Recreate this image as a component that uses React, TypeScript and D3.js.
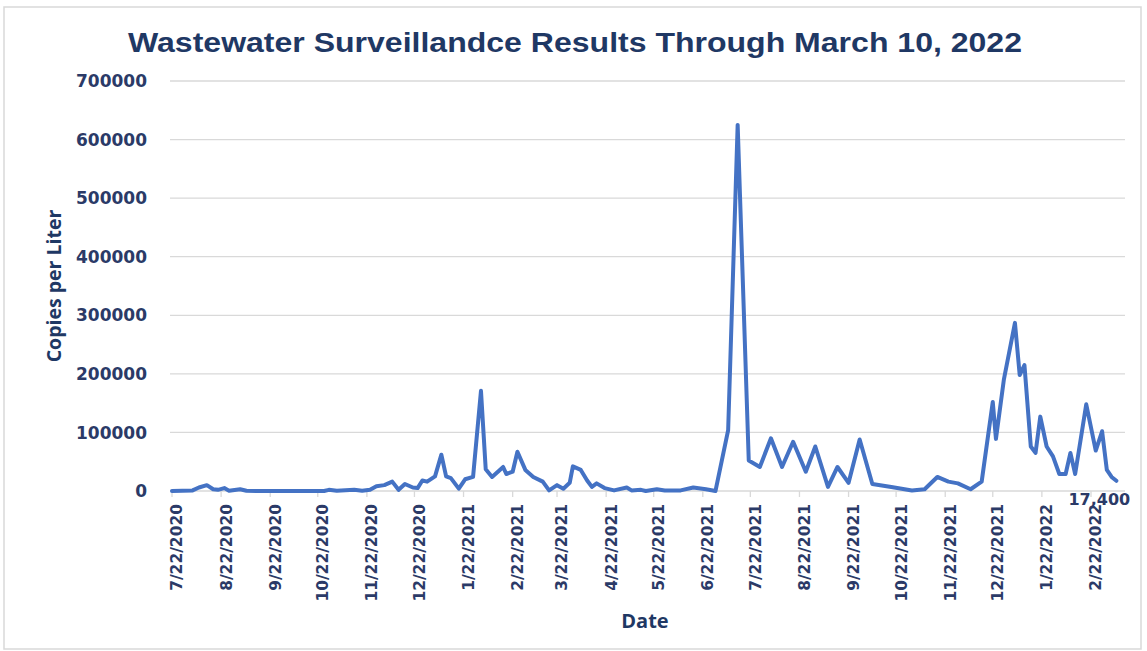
import * as d3 from 'd3'

// sample dates and copies per liter
const sampleDates = [
  '2020-07-22', '2020-08-04', '2020-08-08', '2020-08-13', '2020-08-17', '2020-08-20', '2020-08-24', '2020-08-27',
  '2020-09-03', '2020-09-07', '2020-09-15', '2020-10-11', '2020-10-26', '2020-10-29', '2020-11-03', '2020-11-14',
  '2020-11-19', '2020-11-24', '2020-11-28', '2020-12-03', '2020-12-08', '2020-12-12', '2020-12-16', '2020-12-21',
  '2020-12-24', '2020-12-27', '2020-12-30', '2021-01-04', '2021-01-08', '2021-01-11', '2021-01-14', '2021-01-19',
  '2021-01-23', '2021-01-28', '2021-02-02', '2021-02-05', '2021-02-09', '2021-02-16', '2021-02-18', '2021-02-22',
  '2021-02-25', '2021-03-02', '2021-03-07', '2021-03-13', '2021-03-17', '2021-03-22', '2021-03-26', '2021-03-30',
  '2021-04-01', '2021-04-06', '2021-04-10', '2021-04-13', '2021-04-16', '2021-04-21', '2021-04-27', '2021-05-05',
  '2021-05-08', '2021-05-14', '2021-05-17', '2021-05-24', '2021-05-29', '2021-06-08', '2021-06-16', '2021-06-24',
  '2021-06-30', '2021-07-08', '2021-07-14', '2021-07-21', '2021-07-28', '2021-08-04', '2021-08-11', '2021-08-18',
  '2021-08-26', '2021-09-01', '2021-09-09', '2021-09-15', '2021-09-22', '2021-09-29', '2021-10-07', '2021-10-19',
  '2021-11-01', '2021-11-09', '2021-11-17', '2021-11-24', '2021-11-30', '2021-12-08', '2021-12-15', '2021-12-22',
  '2021-12-24', '2021-12-29', '2022-01-05', '2022-01-08', '2022-01-11', '2022-01-15', '2022-01-18', '2022-01-21',
  '2022-01-25', '2022-01-29', '2022-02-02', '2022-02-06', '2022-02-09', '2022-02-12', '2022-02-19', '2022-02-25',
  '2022-03-01', '2022-03-04', '2022-03-07', '2022-03-10'
]

const copiesPerLiter = [
  0, 1000, 6000, 10000, 3000, 2000, 5000, 500,
  3000, 500, 0, 0, 0, 2000, 500, 2000,
  500, 2000, 8000, 10000, 16000, 2000, 12000, 6000,
  5000, 18000, 16000, 25000, 62000, 25000, 22000, 4000,
  20000, 24000, 171000, 37000, 24000, 41000, 29000, 33000,
  67000, 36000, 24000, 16000, 1000, 10000, 4000, 14000,
  42000, 36000, 18000, 7000, 13000, 5000, 1000, 6000,
  1000, 2000, 0, 3000, 1000, 1000, 6000, 3000,
  0, 104000, 625000, 52000, 41000, 90000, 41000, 84000,
  33000, 76000, 7000, 41000, 14000, 88000, 12000, 7000,
  1000, 3000, 24000, 16000, 13000, 3000, 16000, 152000,
  89000, 190000, 287000, 198000, 215000, 76000, 65000, 127000,
  76000, 59000, 29000, 29000, 65000, 29000, 148000, 69000,
  102000, 36000, 24000, 17400
]

const tickDates = [
  '2020-07-22', '2020-08-22', '2020-09-22', '2020-10-22', '2020-11-22', '2020-12-22', '2021-01-22',
  '2021-02-22', '2021-03-22', '2021-04-22', '2021-05-22', '2021-06-22', '2021-07-22', '2021-08-22',
  '2021-09-22', '2021-10-22', '2021-11-22', '2021-12-22', '2022-01-22', '2022-02-22'
]

const yTicks = [0, 100000, 200000, 300000, 400000, 500000, 600000, 700000]

const W = 1147
const H = 651
const NAVY = '#1f3864'
const TICK_COLOR = '#2b3a67'
const GRID = '#d9d9d9'

export default function App() {
  const parse = d3.timeParse('%Y-%m-%d')
  const points = sampleDates.map((d, i) => ({ date: parse(d) as Date, value: copiesPerLiter[i] }))
  const ticks = tickDates.map(d => parse(d) as Date)

  const x = d3.scaleTime()
    .domain([ticks[0], ticks[ticks.length - 1]])
    .range([172, 1091])

  const y = d3.scaleLinear()
    .domain([0, 700000])
    .range([491, 81])

  const line = d3.line<{ date: Date; value: number }>()
    .x(d => x(d.date))
    .y(d => y(d.value))
    .curve(d3.curveLinear)

  const last = points[points.length - 1]
  const fmt = d3.format(',')
  const labelFmt = d3.timeFormat('%-m/%-d/%Y')

  return (
    <svg width={W} height={H} style={{ position: 'absolute', left: 0, top: 0, background: '#fff' }}>
      <rect x={4} y={7} width={1137} height={642} fill="#fff" stroke="#d9d9d9" strokeWidth={1.5} />

      {/* title */}
      <text x={575} y={52} textAnchor="middle" fill={NAVY}
        style={{ fontFamily: 'Liberation Sans, Arial, sans-serif', fontWeight: 700, fontSize: 28 }}
        textLength={894} lengthAdjust="spacingAndGlyphs">
        Wastewater Surveillandce  Results Through  March  10, 2022
      </text>

      {/* gridlines */}
      {yTicks.map(t => (
        <line key={t} x1={170} x2={1125} y1={y(t)} y2={y(t)}
          stroke={GRID} strokeWidth={1.3} />
      ))}

      {/* y tick labels */}
      {yTicks.map(t => (
        <text key={'l' + t} x={147} y={y(t)} dy="0.36em" textAnchor="end" fill={TICK_COLOR}
          style={{ fontFamily: 'DejaVu Sans, sans-serif', fontWeight: 700, fontSize: 17 }}>
          {t}
        </text>
      ))}

      {/* y axis title */}
      <text transform="translate(61,286) rotate(-90)" textAnchor="middle" fill={NAVY}
        style={{ fontFamily: 'Open Sans, sans-serif', fontWeight: 700, fontSize: 19.5 }}>
        Copies per Liter
      </text>

      {/* x tick marks */}
      {ticks.map((t, i) => (
        <line key={'t' + i} x1={x(t)} x2={x(t)} y1={491} y2={497} stroke={GRID} strokeWidth={1.3} />
      ))}

      {/* x tick labels */}
      {ticks.map((t, i) => (
        <text key={'x' + i} transform={`translate(${x(t) + 5},504) rotate(-90)`} textAnchor="end"
          dy="0.35em" fill={TICK_COLOR}
          style={{ fontFamily: 'DejaVu Sans, sans-serif', fontWeight: 700, fontSize: 15.5 }}>
          {labelFmt(t)}
        </text>
      ))}

      {/* data line */}
      <path d={line(points) ?? ''} fill="none" stroke="#4472c4" strokeWidth={4}
        strokeLinejoin="round" strokeLinecap="round" />

      {/* last value label */}
      <text x={x(last.date) - 17} y={505} textAnchor="middle" fill={TICK_COLOR}
        style={{ fontFamily: 'DejaVu Sans, sans-serif', fontWeight: 700, fontSize: 16 }}>
        {fmt(last.value)}
      </text>

      {/* x axis title */}
      <text x={645} y={628} textAnchor="middle" fill={NAVY}
        style={{ fontFamily: 'Open Sans, sans-serif', fontWeight: 700, fontSize: 20 }}>
        Date
      </text>
    </svg>
  )
}
